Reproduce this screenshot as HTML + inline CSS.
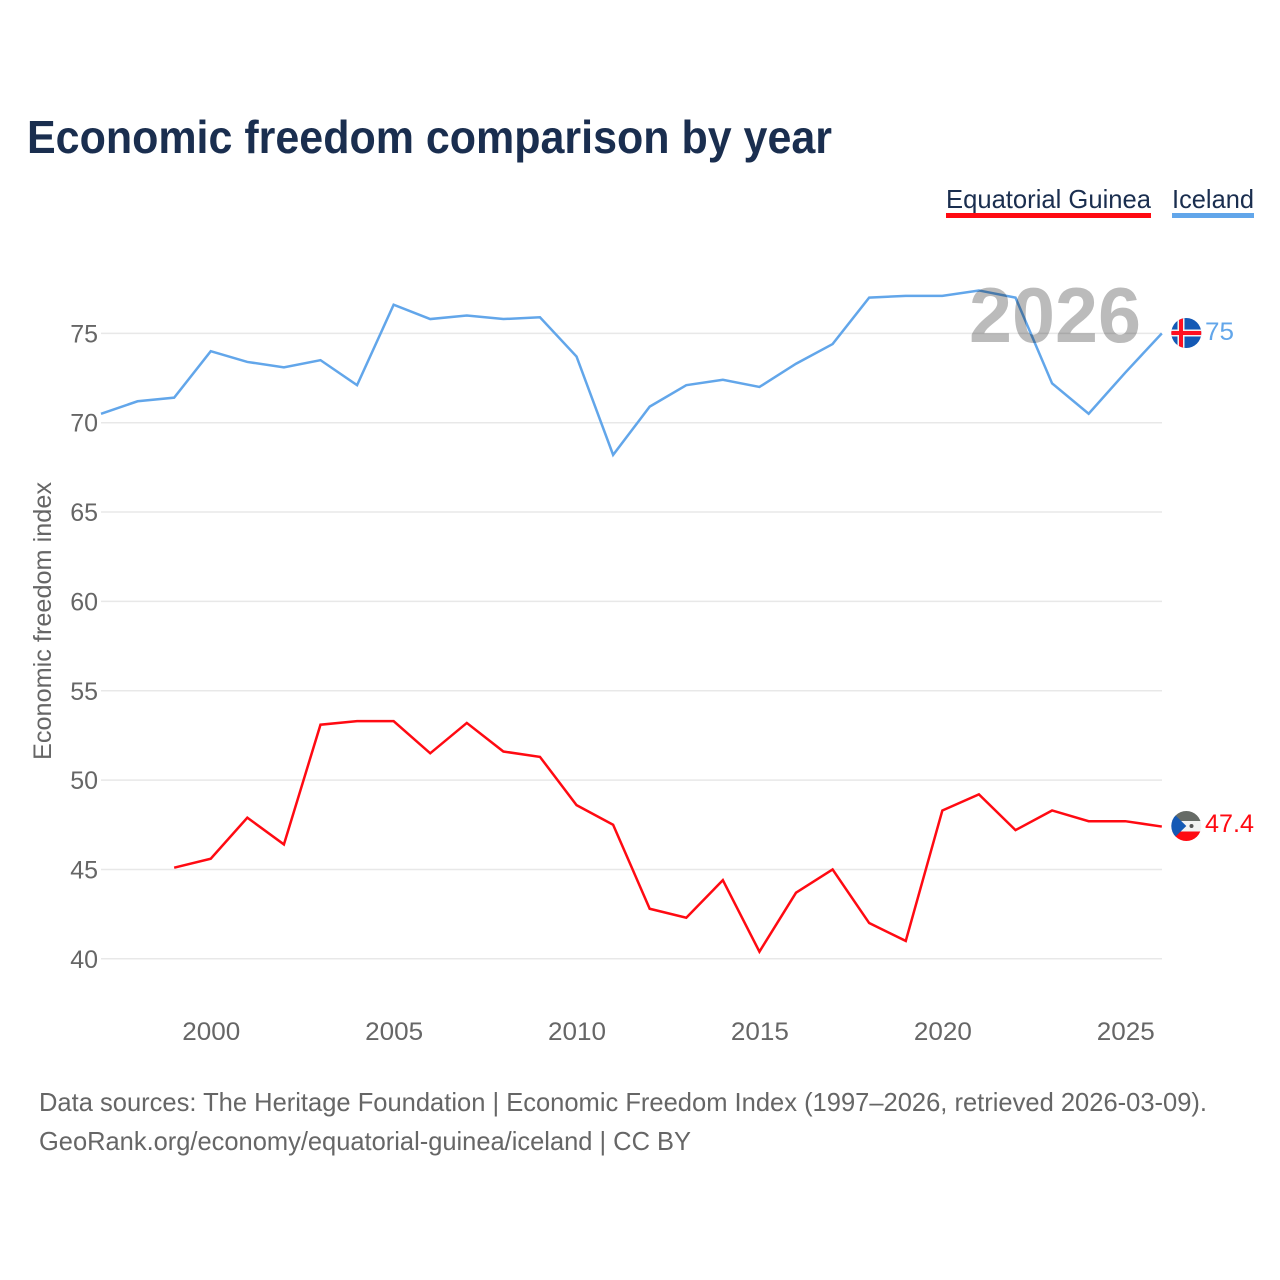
<!DOCTYPE html>
<html lang="en">
<head>
<meta charset="utf-8">
<title>Economic freedom comparison by year</title>
<style>
html,body{margin:0;padding:0;background:#fff;}
svg{display:block;font-family:"Liberation Sans",sans-serif;}
</style>
</head>
<body>
<svg id="chart" xmlns="http://www.w3.org/2000/svg" width="1280" height="1280" viewBox="0 0 1280 1280">
<defs>
<clipPath id="flag-clip-is"><circle cx="1186.3" cy="333" r="15"/></clipPath>
<clipPath id="flag-clip-gq"><circle cx="1186.3" cy="826" r="15"/></clipPath>
</defs>
<rect x="0" y="0" width="1280" height="1280" fill="#fff"/>
<text x="27" y="153" font-size="46" font-weight="700" fill="#1a2e4f" textLength="805" lengthAdjust="spacingAndGlyphs">Economic freedom comparison by year</text>
<g>
<g>
<text x="946" y="208" font-size="26" fill="#1a2e4f" textLength="205" lengthAdjust="spacingAndGlyphs">Equatorial Guinea</text>
<rect x="946" y="213" width="205" height="5" fill="#ff0a12"/>
</g>
<g>
<text x="1172" y="208" font-size="26" fill="#1a2e4f" textLength="82" lengthAdjust="spacingAndGlyphs">Iceland</text>
<rect x="1172" y="213" width="82" height="5" fill="#62a6ea"/>
</g>
</g>
<g id="grid"></g>
<g id="ylabels"></g>
<g id="xlabels"></g>
<text transform="translate(51,621) rotate(-90)" text-anchor="middle" font-size="25" fill="#666" textLength="278" lengthAdjust="spacingAndGlyphs">Economic freedom index</text>
<g id="series"></g>
<text x="1055" y="342" text-anchor="middle" font-size="78" font-weight="700" fill="#bbbbbb" style="mix-blend-mode:multiply" textLength="172" lengthAdjust="spacingAndGlyphs">2026</text>
<g clip-path="url(#flag-clip-is)">
<rect x="1171" y="318" width="31" height="30" fill="#1459b5"/>
<rect x="1177.5" y="318" width="7" height="30" fill="#f2f2f2"/>
<rect x="1171" y="329.5" width="31" height="7" fill="#f2f2f2"/>
<rect x="1179" y="318" width="4" height="30" fill="#ff1020"/>
<rect x="1171" y="331" width="31" height="4" fill="#ff1020"/>
</g>
<g clip-path="url(#flag-clip-gq)">
<rect x="1171" y="811" width="31" height="10" fill="#666b66"/>
<rect x="1171" y="821" width="31" height="10.5" fill="#f2f2f2"/>
<rect x="1171" y="831.5" width="31" height="10" fill="#ff0a12"/>
<polygon points="1171,811 1186.3,826 1171,841" fill="#1459b5"/>
<circle cx="1191.5" cy="826" r="2" fill="#555"/>
</g>
<text id="value-iceland" x="1205" y="340" font-size="25" fill="#62a6ea" textLength="29" lengthAdjust="spacingAndGlyphs">75</text>
<text id="value-eg" x="1205" y="832" font-size="25" fill="#ff0a12" textLength="49" lengthAdjust="spacingAndGlyphs">47.4</text>
<text x="39" y="1111" font-size="26" fill="#666" textLength="1168" lengthAdjust="spacingAndGlyphs">Data sources: The Heritage Foundation | Economic Freedom Index (1997–2026, retrieved 2026-03-09).</text>
<text x="39" y="1150" font-size="26" fill="#666" textLength="652" lengthAdjust="spacingAndGlyphs">GeoRank.org/economy/equatorial-guinea/iceland | CC BY</text>
</svg>
<script>
const yTicks = [40, 45, 50, 55, 60, 65, 70, 75];
const xTicks = [2000, 2005, 2010, 2015, 2020, 2025];
const icelandYears = [1997,1998,1999,2000,2001,2002,2003,2004,2005,2006,2007,2008,2009,2010,2011,2012,2013,2014,2015,2016,2017,2018,2019,2020,2021,2022,2023,2024,2025,2026];
const icelandValues = [70.5,71.2,71.4,74.0,73.4,73.1,73.5,72.1,76.6,75.8,76.0,75.8,75.9,73.7,68.2,70.9,72.1,72.4,72.0,73.3,74.4,77.0,77.1,77.1,77.4,77.0,72.2,70.5,72.8,75.0];
const guineaYears = [1999,2000,2001,2002,2003,2004,2005,2006,2007,2008,2009,2010,2011,2012,2013,2014,2015,2016,2017,2018,2019,2020,2021,2022,2023,2024,2025,2026];
const guineaValues = [45.1,45.6,47.9,46.4,53.1,53.3,53.3,51.5,53.2,51.6,51.3,48.6,47.5,42.8,42.3,44.4,40.4,43.7,45.0,42.0,41.0,48.3,49.2,47.2,48.3,47.7,47.7,47.4];

const NS = 'http://www.w3.org/2000/svg';
function xScale(year) { return 101 + (year - 1997) * 36.58; }
function yScale(value) { return 958.8 - (value - 40) * 17.87; }

const grid = document.getElementById('grid');
const ylabels = document.getElementById('ylabels');
const xlabels = document.getElementById('xlabels');
const series = document.getElementById('series');

yTicks.forEach(function (t) {
  const line = document.createElementNS(NS, 'line');
  
  
  line.setAttribute('x1', 101);
  line.setAttribute('x2', 1162);
  line.setAttribute('y1', yScale(t));
  line.setAttribute('y2', yScale(t));
  line.setAttribute('stroke', '#e8e8e8');
  line.setAttribute('stroke-width', '1.5');
  grid.appendChild(line);

  const label = document.createElementNS(NS, 'text');
  
  
  label.setAttribute('x', 98);
  label.setAttribute('y', yScale(t) + 9);
  label.setAttribute('text-anchor', 'end');
  label.setAttribute('font-size', '25');
  label.setAttribute('fill', '#666');
  label.textContent = t;
  ylabels.appendChild(label);
});

xTicks.forEach(function (t) {
  const label = document.createElementNS(NS, 'text');
  
  
  label.setAttribute('x', xScale(t) + 0.5);
  label.setAttribute('y', 1040);
  label.setAttribute('text-anchor', 'middle');
  label.setAttribute('font-size', '25');
  label.setAttribute('fill', '#666');
  label.setAttribute('textLength', '58');
  label.setAttribute('lengthAdjust', 'spacingAndGlyphs');
  label.textContent = t;
  xlabels.appendChild(label);
});

function pointsFor(years, values) {
  return years.map(function (y, i) { return xScale(y).toFixed(2) + ',' + yScale(values[i]).toFixed(2); }).join(' ');
}

const guineaLine = document.createElementNS(NS, 'polyline');


guineaLine.setAttribute('points', pointsFor(guineaYears, guineaValues));
guineaLine.setAttribute('fill', 'none');
guineaLine.setAttribute('stroke', '#ff0a12');
guineaLine.setAttribute('stroke-width', '2.5');
series.appendChild(guineaLine);

const icelandLine = document.createElementNS(NS, 'polyline');


icelandLine.setAttribute('points', pointsFor(icelandYears, icelandValues));
icelandLine.setAttribute('fill', 'none');
icelandLine.setAttribute('stroke', '#62a6ea');
icelandLine.setAttribute('stroke-width', '2.5');
series.appendChild(icelandLine);
</script>
</body>
</html>
